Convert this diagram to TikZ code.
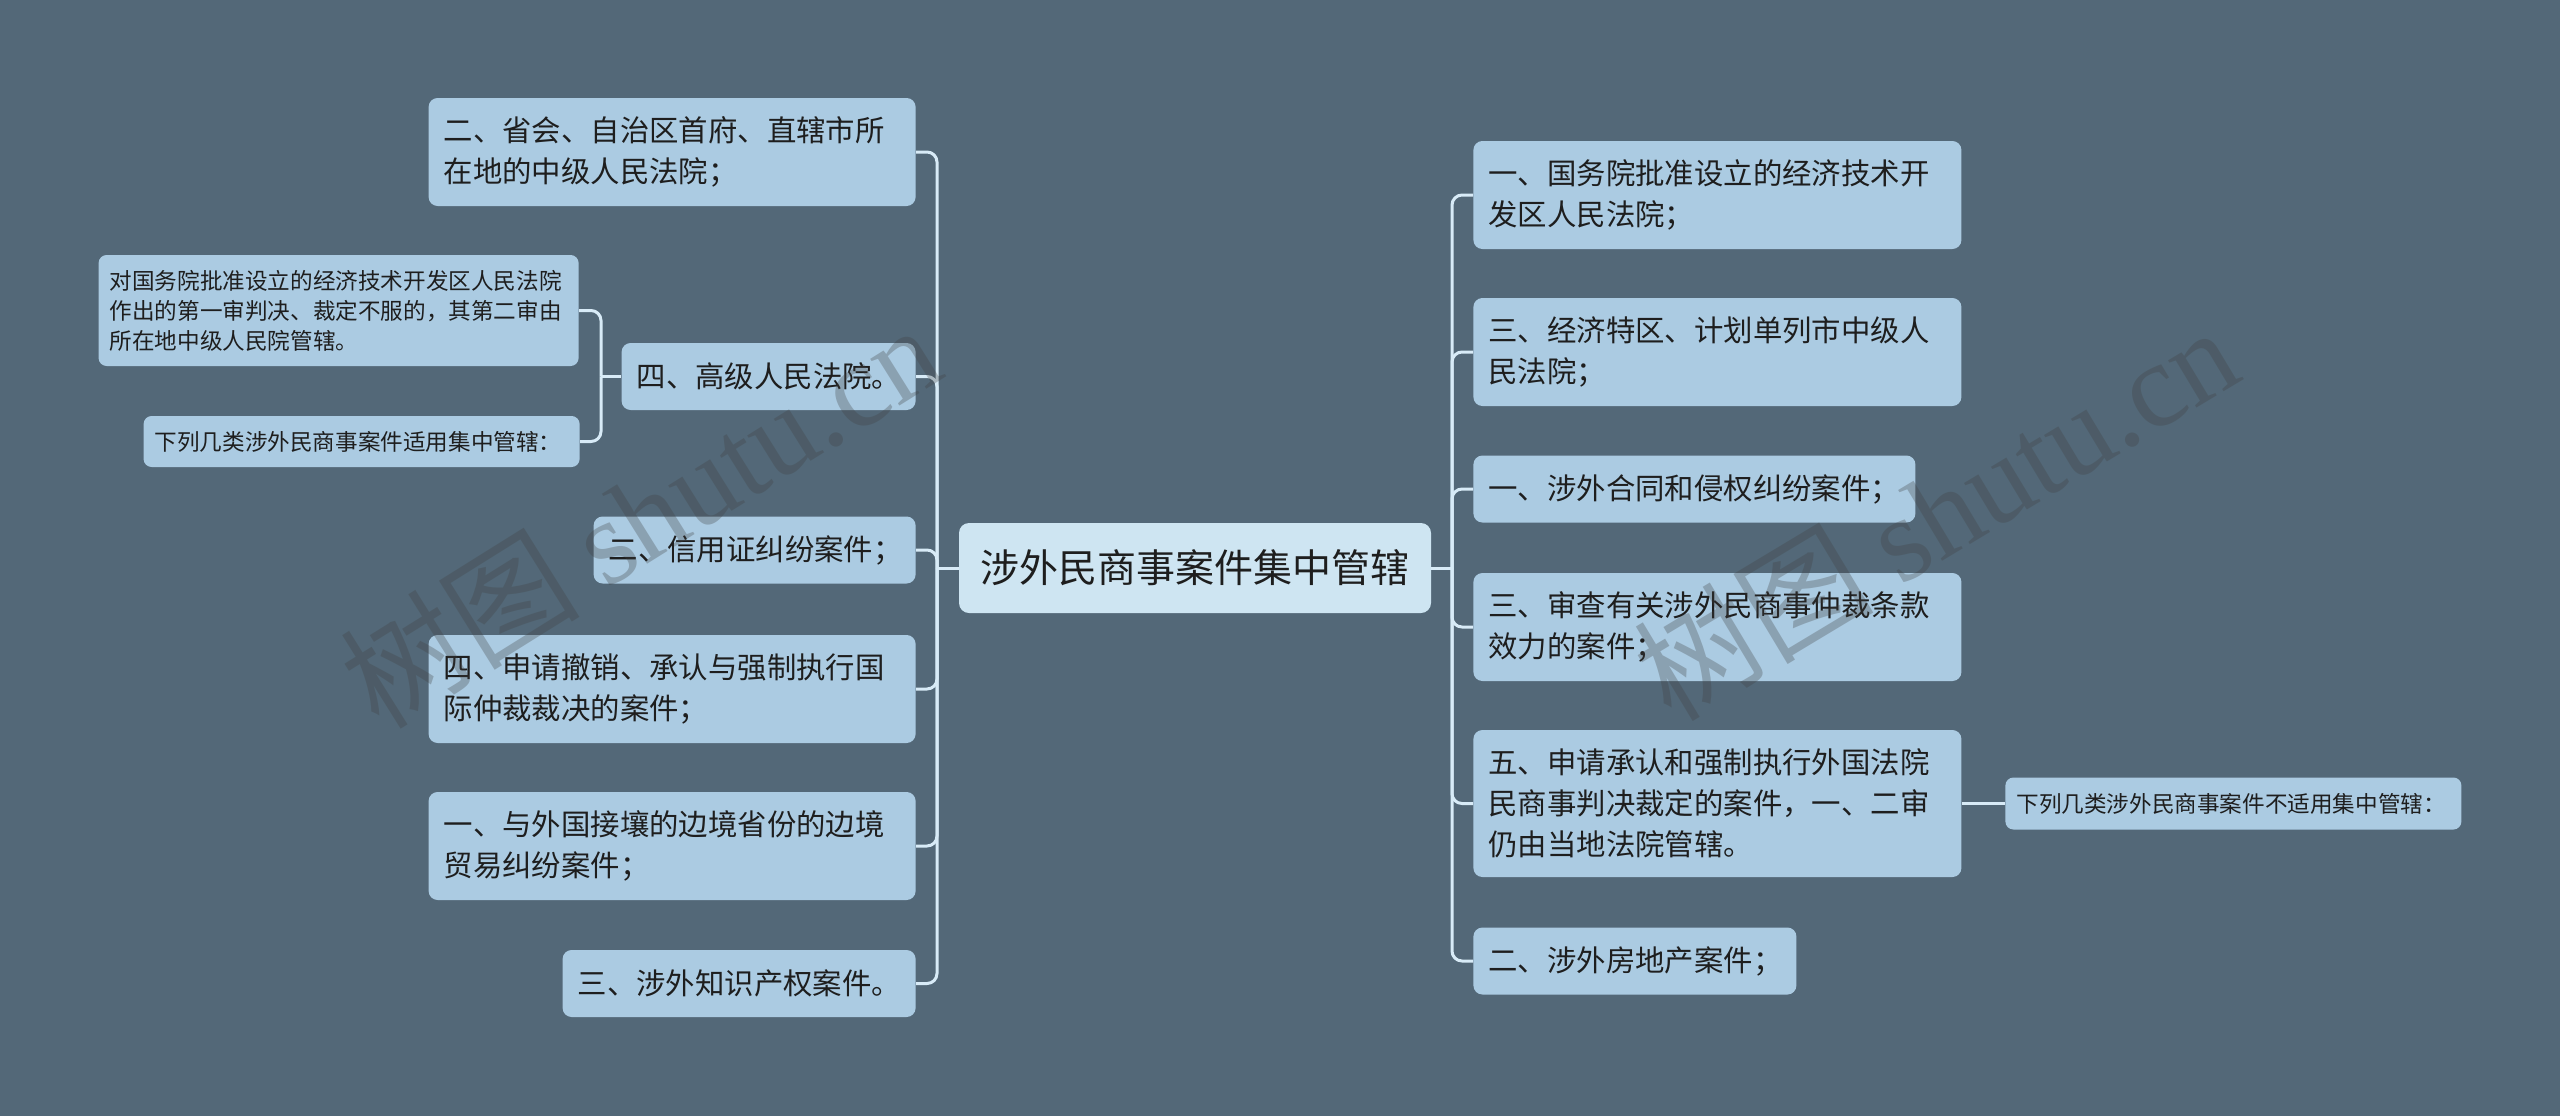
\documentclass[tikz,border=0pt]{standalone}
\usepackage{fontspec}
\setmainfont{Noto Sans CJK SC}
\newfontfamily\wmlatin{Liberation Serif}
\usepackage{xcolor}

\definecolor{bgslate}{RGB}{83,104,120}
\definecolor{topicfill}{RGB}{171,203,226}
\definecolor{rootfill}{RGB}{206,229,242}
\definecolor{branchline}{RGB}{216,235,247}
\definecolor{inkdark}{RGB}{30,30,30}

\begin{document}
\begin{tikzpicture}[x=0.5pt, y=-0.5pt, line join=round,
    rootbox/.style={fill=rootfill, rounded corners=5pt, minimum width=236pt,
        minimum height=45pt, inner sep=0pt, text=inkdark,
        font=\fontsize{19.5}{24}\selectfont},
    topic/.style={fill=topicfill, rounded corners=4.5pt, inner xsep=7.5pt,
        inner ysep=0pt, text=inkdark, align=left, text width=#1,
        font=\fontsize{14.7}{20.5}\selectfont},
    subtopic/.style={fill=topicfill, rounded corners=4pt, inner xsep=5.5pt,
        inner ysep=0pt, text=inkdark, align=left, text width=#1,
        font=\fontsize{11.3}{15}\selectfont},
    oneline/.style={minimum height=33.5pt},
    twolines/.style={minimum height=54pt},
    threelines/.style={minimum height=73.5pt},
    branch/.style={draw=branchline, line width=1.5pt, rounded corners=5pt},
    watermark/.style={text=black!75, opacity=0.3, inner sep=0pt,
        font=\fontsize{60}{60}\selectfont}]

    % Page: slate background, fixes the size (pixel units of the reference)
    \fill[bgslate] (0,0) rectangle (2560,1116);
    \useasboundingbox (0,0) rectangle (2560,1116);

    % Central topic
    \node[rootbox] (root) at (1195,568) {涉外民商事案件集中管辖};

    % Left branch (right edges on x=916)
    \node[topic=228.5pt, twolines, anchor=east] (l1) at (916,152)
        {二、省会、自治区首府、直辖市所\\在地的中级人民法院；};
    \node[topic=132pt, oneline, anchor=east] (l2) at (916,376.5)
        {四、高级人民法院。};
    \node[topic=146pt, oneline, anchor=east] (l3) at (916,550)
        {二、信用证纠纷案件；};
    \node[topic=228.5pt, twolines, anchor=east] (l4) at (916,689)
        {四、申请撤销、承认与强制执行国\\际仲裁裁决的案件；};
    \node[topic=228.5pt, twolines, anchor=east] (l5) at (916,846)
        {一、与外国接壤的边境省份的边境\\贸易纠纷案件；};
    \node[topic=161.5pt, oneline, anchor=east] (l6) at (916,983.5)
        {三、涉外知识产权案件。};

    % Children of l2
    \node[subtopic=229pt, anchor=east, minimum height=55.5pt] (l2a) at (579,310.5)
        {对国务院批准设立的经济技术开发区人民法院\\作出的第一审判决、裁定不服的，其第二审由\\所在地中级人民院管辖。};
    \node[subtopic=207pt, anchor=east, minimum height=25.5pt] (l2b) at (580,441.5)
        {下列几类涉外民商事案件适用集中管辖：};

    % Right branch (left edges on x=1473)
    \node[topic=229pt, twolines, anchor=west] (r1) at (1473,195)
        {一、国务院批准设立的经济技术开\\发区人民法院；};
    \node[topic=229pt, twolines, anchor=west] (r2) at (1473,352)
        {三、经济特区、计划单列市中级人\\民法院；};
    \node[topic=206pt, oneline, anchor=west] (r3) at (1473,489)
        {一、涉外合同和侵权纠纷案件；};
    \node[topic=229pt, twolines, anchor=west] (r4) at (1473,627)
        {三、审查有关涉外民商事仲裁条款\\效力的案件；};
    \node[topic=229pt, threelines, anchor=west] (r5) at (1473,803.5)
        {五、申请承认和强制执行外国法院\\民商事判决裁定的案件，一、二审\\仍由当地法院管辖。};
    \node[topic=146.5pt, oneline, anchor=west] (r6) at (1473,961)
        {二、涉外房地产案件；};

    % Child of r5
    \node[subtopic=217pt, anchor=west, minimum height=26pt] (r5a) at (2005,803.5)
        {下列几类涉外民商事案件不适用集中管辖：};

    % Trunk points
    \coordinate (lt) at (937,568);
    \coordinate (rt) at (1452,568);
    \coordinate (l2t) at (601,376.5);

    % Connectors
    \draw[branch] (root.west) -- (lt);
    \foreach \n in {l1,l2,l3,l4,l5,l6}
        \draw[branch] (lt) |- (\n.east);
    \draw[branch] (root.east) -- (rt);
    \foreach \n in {r1,r2,r3,r4,r5,r6}
        \draw[branch] (rt) |- (\n.west);
    \draw[branch] (l2.west) -- (l2t);
    \foreach \n in {l2a,l2b}
        \draw[branch] (l2t) |- (\n.east);
    \draw[branch] (r5.east) -- (r5a.west);

    % Watermarks on top
    \node[watermark, rotate=32] (wmleft) at (640,515) {树图 {\wmlatin shutu.cn}};
    \node[watermark, rotate=31] (wmright) at (1935,512) {树图 {\wmlatin shutu.cn}};

\end{tikzpicture}
\end{document}
